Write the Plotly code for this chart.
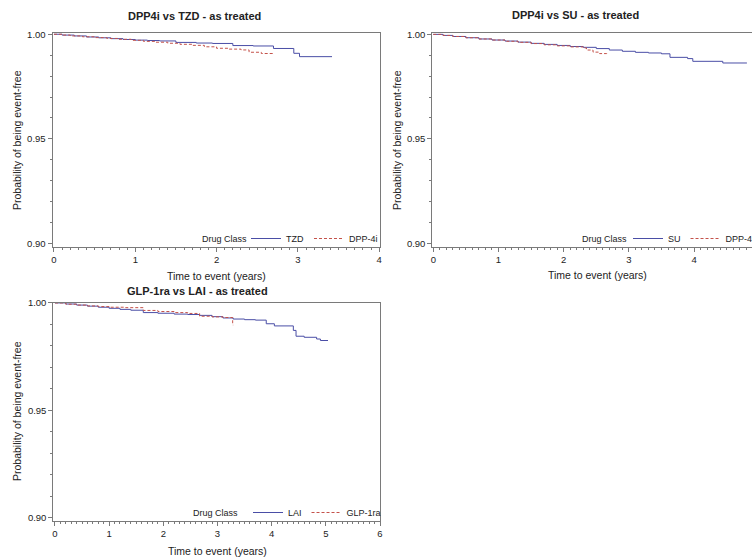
import plotly.graph_objects as go

# ---------------- data ----------------
panel_titles = ["DPP4i vs TZD - as treated", "DPP4i vs SU - as treated", "GLP-1ra vs LAI - as treated"]
x_title = "Time to event (years)"
y_title = "Probability of being event-free"
legend_title = "Drug Class"

# Panel 1: TZD (blue) vs DPP-4i (red dashed)
tzd_t = [0, 0.1, 0.25, 0.4, 0.55, 0.7, 0.85, 1.0, 1.15, 1.3, 1.5, 1.75, 1.95, 2.2, 2.45, 2.7, 2.95, 3.02, 3.42]
tzd_v = [1.0, 0.9996, 0.9992, 0.9987, 0.9983, 0.9979, 0.9975, 0.9972, 0.9970, 0.9968, 0.9961, 0.9958, 0.9956,
         0.9946, 0.9944, 0.9932, 0.9909, 0.9893, 0.9893]
dpp1_t = [0, 0.1, 0.2, 0.35, 0.5, 0.65, 0.8, 0.95, 1.1, 1.25, 1.4, 1.55, 1.7, 1.85, 2.0, 2.15, 2.3, 2.4, 2.55, 2.7]
dpp1_v = [1.0, 0.9996, 0.9992, 0.9988, 0.9984, 0.9980, 0.9976, 0.9971, 0.9966, 0.9962, 0.9957, 0.9952, 0.9947,
          0.9940, 0.9933, 0.9929, 0.9925, 0.9914, 0.9908, 0.9902]

# Panel 2: SU (blue) vs DPP-4i (red dashed)
su_t = [0, 0.15, 0.3, 0.5, 0.7, 0.9, 1.1, 1.3, 1.5, 1.7, 1.9, 2.1, 2.3, 2.5, 2.7, 2.9, 3.1, 3.3, 3.5, 3.63,
        3.9, 3.98, 4.44, 4.81]
su_v = [1.0, 0.9995, 0.9990, 0.9984, 0.9978, 0.9973, 0.9968, 0.9963, 0.9957, 0.9952, 0.9947, 0.9942, 0.9938,
        0.9932, 0.9925, 0.9919, 0.9914, 0.9911, 0.9907, 0.9890, 0.9884, 0.9871, 0.9863, 0.9863]
dpp2_t = [0, 0.15, 0.3, 0.5, 0.7, 0.9, 1.1, 1.3, 1.5, 1.7, 1.9, 2.1, 2.3, 2.35, 2.45, 2.55, 2.66]
dpp2_v = [1.0, 0.9995, 0.9990, 0.9984, 0.9978, 0.9973, 0.9967, 0.9962, 0.9956, 0.9950, 0.9945, 0.9940, 0.9935,
          0.9925, 0.9915, 0.9908, 0.9906]

# Panel 3: LAI (blue) vs GLP-1ra (red dashed)
lai_t = [0, 0.2, 0.4, 0.6, 0.8, 1.0, 1.2, 1.4, 1.63, 1.9, 2.2, 2.45, 2.67, 2.9, 3.1, 3.29, 3.5, 3.7, 3.9, 4.05,
         4.4, 4.45, 4.6, 4.83, 4.9, 5.04]
lai_v = [1.0, 0.9995, 0.9990, 0.9985, 0.9980, 0.9975, 0.9970, 0.9966, 0.9955, 0.9952, 0.9948, 0.9946, 0.9942,
         0.9936, 0.9930, 0.9925, 0.9922, 0.9920, 0.9903, 0.9893, 0.9872, 0.9845, 0.9840, 0.9832, 0.9825, 0.9825]
glp_t = [0, 0.2, 0.4, 0.6, 0.8, 1.0, 1.3, 1.63, 1.9, 2.2, 2.45, 2.67, 2.9, 3.1, 3.28, 3.29]
glp_v = [1.0, 0.9994, 0.9990, 0.9986, 0.9983, 0.9980, 0.9978, 0.9965, 0.9960, 0.9955, 0.9951, 0.9938, 0.9935,
         0.9932, 0.9897, 0.9897]

blue_labels = ["TZD", "SU", "LAI"]
red_labels = ["DPP-4i", "DPP-4i", "GLP-1ra"]

# ---------------- styling ----------------
W, H = 752, 558
BLUE = "#4a4ea6"
RED = "#c4524a"
FRAME = "#7a7a7a"
TXT = "#222222"
FONT = "Liberation Sans, Arial, sans-serif"

fig = go.Figure()

series = [
    (tzd_t, tzd_v, dpp1_t, dpp1_v),
    (su_t, su_v, dpp2_t, dpp2_v),
    (lai_t, lai_v, glp_t, glp_v),
]
legend_names = ["legend", "legend2", "legend3"]
for i, (bt, bv, rt, rv) in enumerate(series):
    xa = "x" if i == 0 else f"x{i+1}"
    ya = "y" if i == 0 else f"y{i+1}"
    fig.add_trace(go.Scatter(x=bt, y=bv, mode="lines", line=dict(color=BLUE, width=1, shape="hv"),
                             name=blue_labels[i], xaxis=xa, yaxis=ya, legend=legend_names[i]))
    fig.add_trace(go.Scatter(x=rt, y=rv, mode="lines", line=dict(color=RED, width=1, shape="hv", dash="3px,2px"),
                             name=red_labels[i], xaxis=xa, yaxis=ya, legend=legend_names[i]))

# panel geometry in pixels: (left, right, top, bottom), x range, y range
panels = [
    dict(px=(52.5, 379.5), py=(33, 247), xr=[-0.018, 4.004], yr=[0.89833, 1.0006], xmax=4),
    dict(px=(432.3, 752), py=(32.5, 246.7), xr=[-0.015, 4.888], yr=[0.89833, 1.0009], xmax=5),
    dict(px=(53.3, 380), py=(302.5, 520.7), xr=[-0.031, 6.0], yr=[0.8986, 1.0002], xmax=6),
]

layout = dict(width=W, height=H, margin=dict(l=0, r=0, t=0, b=0, autoexpand=False),
              paper_bgcolor="white", plot_bgcolor="white",
              font=dict(family=FONT, color=TXT, size=9.5), showlegend=True)

for i, p in enumerate(panels):
    sfx = "" if i == 0 else str(i + 1)
    xd = [p["px"][0] / W, p["px"][1] / W]
    yd = [1 - p["py"][1] / H, 1 - p["py"][0] / H]
    layout["xaxis" + sfx] = dict(domain=xd, range=p["xr"], anchor="y" + sfx, tickmode="array",
                                 tickvals=list(range(0, p["xmax"] + 1)), ticks="outside", ticklen=4,
                                 tickcolor=FRAME, showline=True, linecolor=FRAME, linewidth=1, mirror=True,
                                 showgrid=False, zeroline=False, tickfont=dict(size=9.5),
                                 minor=dict(dtick=0.1, ticks="outside", ticklen=2, tickcolor=FRAME, showgrid=False))
    layout["yaxis" + sfx] = dict(domain=yd, range=p["yr"], anchor="x" + sfx, tickmode="array",
                                 tickvals=[0.90, 0.95, 1.00], tickformat=".2f", ticks="outside", ticklen=4,
                                 tickcolor=FRAME, showline=True, linecolor=FRAME, linewidth=1, mirror=True,
                                 showgrid=False, zeroline=False, tickfont=dict(size=9.5),
                                 minor=dict(dtick=0.01, ticks="outside", ticklen=2, tickcolor=FRAME, showgrid=False))

legend_pos = [(383, 253), (760, 253), (386, 527)]
for i, (lx, ly) in enumerate(legend_pos):
    layout[legend_names[i]] = dict(orientation="h", x=lx / W, xanchor="right", y=1 - ly / H, yanchor="bottom",
                                   bgcolor="rgba(0,0,0,0)", borderwidth=0, font=dict(size=9), itemwidth=30)

annotations = []
title_pos = [(195, 16), (575, 15), (197, 291)]
for i, (tx, ty) in enumerate(title_pos):
    annotations.append(dict(text="<b>" + panel_titles[i] + "</b>", x=tx / W, y=1 - ty / H, xref="paper",
                            yref="paper", showarrow=False, xanchor="center", yanchor="middle",
                            font=dict(size=11, color=TXT)))
xt_pos = [(216.5, 276), (597, 275), (217, 551)]
for tx, ty in xt_pos:
    annotations.append(dict(text=x_title, x=tx / W, y=1 - ty / H, xref="paper", yref="paper", showarrow=False,
                            xanchor="center", yanchor="middle", font=dict(size=10.5, color=TXT)))
yt_pos = [(17, 140), (397, 140), (17, 411)]
for tx, ty in yt_pos:
    annotations.append(dict(text=y_title, x=tx / W, y=1 - ty / H, xref="paper", yref="paper", showarrow=False,
                            textangle=-90, xanchor="center", yanchor="middle", font=dict(size=10.5, color=TXT)))
lt_pos = [(224, 239), (604, 239), (215, 513)]
for tx, ty in lt_pos:
    annotations.append(dict(text=legend_title, x=tx / W, y=1 - ty / H, xref="paper", yref="paper",
                            showarrow=False, xanchor="center", yanchor="middle", font=dict(size=9, color=TXT)))
layout["annotations"] = annotations

fig.update_layout(**layout)
fig.write_html("out.html", config={"displayModeBar": False},
               post_script="document.body.style.margin='0';document.body.style.padding='0';"
                           "document.body.style.overflow='hidden';")
